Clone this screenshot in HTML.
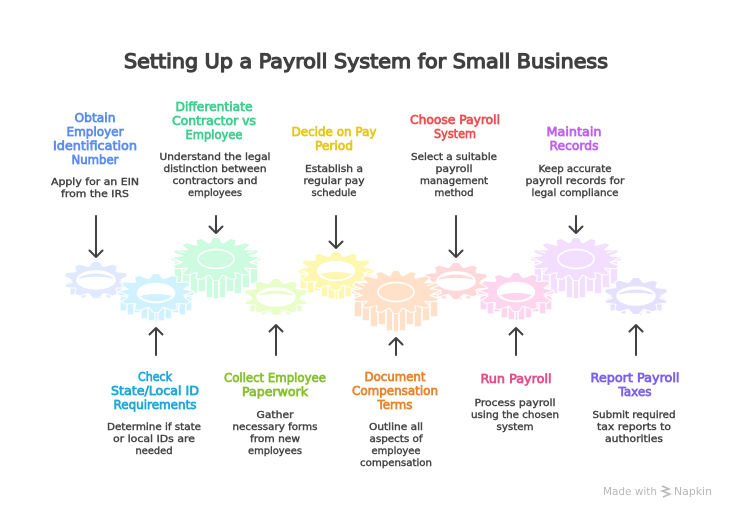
<!DOCTYPE html>
<html><head><meta charset="utf-8"><style>
html,body{margin:0;padding:0;background:#fff}
svg{display:block}
text{text-anchor:middle;font-family:"DejaVu Sans","Liberation Sans",sans-serif;}
.T{font-size:19.5px;fill:#404040;stroke:#404040;stroke-width:1.2px}
.h{font-size:12px;stroke-width:.75px}
.b{font-size:10px;fill:#444;stroke:#444;stroke-width:.42px}
.f{font-size:10.5px;fill:#b8b8b8;text-anchor:start}
.w{fill:none;stroke:#fff;stroke-width:1.5px}
.d{fill:none;stroke:#fff;stroke-width:1px}
.ar{fill:none;stroke:#404040;stroke-width:2px;stroke-linecap:round;stroke-linejoin:round}
</style></head><body>
<svg width="732" height="516" viewBox="0 0 732 516" xmlns="http://www.w3.org/2000/svg">
<defs>
<polygon id="tl" points="-14,-72 -6,-100 6,-100 14,-72" vector-effect="non-scaling-stroke"/>
<polygon id="tm" points="-18,-72 -7,-100 7,-100 18,-72" vector-effect="non-scaling-stroke"/>
<polygon id="ts" points="-22,-72 -8,-100 8,-100 22,-72" vector-effect="non-scaling-stroke"/>
<circle id="c" r="77" vector-effect="non-scaling-stroke"/>
<g id="tL" fill="currentColor">
<use href="#c"/>
<use href="#tl"/><use href="#tl" transform="rotate(22.5)"/><use href="#tl" transform="rotate(45)"/><use href="#tl" transform="rotate(67.5)"/><use href="#tl" transform="rotate(90)"/><use href="#tl" transform="rotate(112.5)"/><use href="#tl" transform="rotate(135)"/><use href="#tl" transform="rotate(157.5)"/><use href="#tl" transform="rotate(180)"/><use href="#tl" transform="rotate(202.5)"/><use href="#tl" transform="rotate(225)"/><use href="#tl" transform="rotate(247.5)"/><use href="#tl" transform="rotate(270)"/><use href="#tl" transform="rotate(292.5)"/><use href="#tl" transform="rotate(315)"/><use href="#tl" transform="rotate(337.5)"/>
</g>
<g id="tM" fill="currentColor">
<use href="#c"/>
<use href="#tm"/><use href="#tm" transform="rotate(30)"/><use href="#tm" transform="rotate(60)"/><use href="#tm" transform="rotate(90)"/><use href="#tm" transform="rotate(120)"/><use href="#tm" transform="rotate(150)"/><use href="#tm" transform="rotate(180)"/><use href="#tm" transform="rotate(210)"/><use href="#tm" transform="rotate(240)"/><use href="#tm" transform="rotate(270)"/><use href="#tm" transform="rotate(300)"/><use href="#tm" transform="rotate(330)"/>
</g>
<g id="tS" fill="currentColor">
<use href="#c"/>
<use href="#ts"/><use href="#ts" transform="rotate(36)"/><use href="#ts" transform="rotate(72)"/><use href="#ts" transform="rotate(108)"/><use href="#ts" transform="rotate(144)"/><use href="#ts" transform="rotate(180)"/><use href="#ts" transform="rotate(216)"/><use href="#ts" transform="rotate(252)"/><use href="#ts" transform="rotate(288)"/><use href="#ts" transform="rotate(324)"/>
</g>
<g id="L">
<g fill="currentColor" stroke="#fff" stroke-width="1.5">
<rect x="-42" y="0" width="8" height="25"/><rect x="-34" y="0" width="8" height="29"/><rect x="-26" y="0" width="8" height="35"/><rect x="-18" y="0" width="8" height="33"/><rect x="-10" y="0" width="7" height="39"/><rect x="-3" y="0" width="6" height="40"/><rect x="3" y="0" width="7" height="39"/><rect x="10" y="0" width="8" height="33"/><rect x="18" y="0" width="8" height="35"/><rect x="26" y="0" width="8" height="29"/><rect x="34" y="0" width="8" height="25"/>
</g>
<g transform="scale(.445,.21)"><g stroke="#fff" stroke-width="2"><use href="#tL"/></g><use href="#tL"/></g>
<path class="d" d="M-44,-1L-34,3L-44,7M-41,-10L-31,-6M44,-1L34,3L44,7M41,-10L31,-6"/>
<ellipse rx="18" ry="9.500" fill="currentColor" stroke="#fff" stroke-width="1.500"/>
</g>
<g id="M">
<g fill="currentColor" stroke="#fff" stroke-width="1.300">
<rect x="-36" y="0" width="7" height="18"/><rect x="-29" y="0" width="7" height="22"/><rect x="-22" y="0" width="7" height="20"/><rect x="-15" y="0" width="7" height="26"/><rect x="-8" y="0" width="7" height="28"/><rect x="-1" y="0" width="3" height="29"/><rect x="2" y="0" width="7" height="28"/><rect x="9" y="0" width="7" height="26"/><rect x="16" y="0" width="7" height="20"/><rect x="23" y="0" width="7" height="22"/><rect x="30" y="0" width="6" height="18"/>
</g>
<g transform="scale(.375,.19)"><g stroke="#fff" stroke-width="2"><use href="#tM"/></g><use href="#tM"/></g>
<path class="d" d="M-37,-1L-28,2L-37,5M37,-1L28,2L37,5"/>
<ellipse rx="18.500" ry="9.500" fill="#fff"/>
<path d="M-16,3Q0,-1 16,3Q10,8.500 0,8.500Q-10,8.500 -16,3Z" fill="currentColor"/>
<ellipse rx="18.500" ry="9.500" class="w"/>
</g>
<g id="S">
<g fill="currentColor" stroke="#fff" stroke-width="1">
<rect x="-26" y="0" width="6" height="15"/><rect x="-15" y="0" width="5" height="18"/><rect x="-5" y="0" width="4" height="19"/><rect x="-1" y="0" width="2" height="20"/><rect x="2" y="0" width="4" height="19"/><rect x="10" y="0" width="5" height="18"/><rect x="20" y="0" width="6" height="15"/>
</g>
<g transform="scale(.32,.18)"><g stroke="#fff" stroke-width="2"><use href="#tS"/></g><use href="#tS"/></g>
<path class="d" d="M-32,-1L-24,2L-32,5M32,-1L24,2L32,5"/>
<ellipse rx="19" ry="9" fill="#fff"/>
<path d="M-17,-2Q0,-10 17,-2Q0,-5.500 -17,-2Z" fill="currentColor" stroke="currentColor" stroke-width="1"/>
<ellipse rx="19" ry="9" class="w"/>
</g>
</defs>

<text class="T" x="366" y="68" textLength="484" lengthAdjust="spacingAndGlyphs">Setting Up a Payroll System for Small Business</text>

<use href="#S" x="96" y="280" color="#e0e9ff"/>
<use href="#L" x="216" y="259" color="#ccfbe0"/>
<use href="#M" x="156" y="293" color="#d0f2ff"/>
<use href="#S" x="276" y="297" color="#e8fdc8"/>
<use href="#M" x="336" y="271" color="#fef7b0"/>
<use href="#S" x="456" y="281" color="#ffd9d9"/>
<use href="#L" x="396" y="292" color="#ffe1ca"/>
<use href="#L" x="576" y="259" color="#f3deff"/>
<use href="#M" x="516" y="292" color="#fdd5ee"/>
<use href="#S" x="636" y="296" color="#e6e0ff"/>

<g class="ar">
<path d="M96 216V257M89.500 250.500L96 257L102.500 250.500"/>
<path d="M216 216V233M209.500 226.500L216 233L222.500 226.500"/>
<path d="M336 216V248M329.500 241.500L336 248L342.500 241.500"/>
<path d="M456 216V257M449.500 250.500L456 257L462.500 250.500"/>
<path d="M576 216V233M569.500 226.500L576 233L582.500 226.500"/>
<path d="M156 355V328M149.500 334.500L156 328L162.500 334.500"/>
<path d="M276 355V325M269.500 331.500L276 325L282.500 331.500"/>
<path d="M396 355V338M389.500 344.500L396 338L402.500 344.500"/>
<path d="M516 355V328M509.500 334.500L516 328L522.500 334.500"/>
<path d="M636 355V325M629.500 331.500L636 325L642.500 331.500"/>
</g>

<g class="h" fill="#5b8def" stroke="#5b8def">
<text x="95" y="122" textLength="41" lengthAdjust="spacingAndGlyphs">Obtain</text>
<text x="95" y="136" textLength="57" lengthAdjust="spacingAndGlyphs">Employer</text>
<text x="95" y="150" textLength="84" lengthAdjust="spacingAndGlyphs">Identification</text>
<text x="95" y="164" textLength="47" lengthAdjust="spacingAndGlyphs">Number</text>
</g>
<g class="h" fill="#3ecf8e" stroke="#3ecf8e">
<text x="214" y="111" textLength="77" lengthAdjust="spacingAndGlyphs">Differentiate</text>
<text x="214" y="125" textLength="84" lengthAdjust="spacingAndGlyphs">Contractor vs</text>
<text x="214" y="139" textLength="57" lengthAdjust="spacingAndGlyphs">Employee</text>
</g>
<g class="h" fill="#e6c619" stroke="#e6c619">
<text x="334" y="136" textLength="85" lengthAdjust="spacingAndGlyphs">Decide on Pay</text>
<text x="334" y="150" textLength="38" lengthAdjust="spacingAndGlyphs">Period</text>
</g>
<g class="h" fill="#ec5050" stroke="#ec5050">
<text x="455" y="124" textLength="90" lengthAdjust="spacingAndGlyphs">Choose Payroll</text>
<text x="455" y="138" textLength="42" lengthAdjust="spacingAndGlyphs">System</text>
</g>
<g class="h" fill="#c060f0" stroke="#c060f0">
<text x="574" y="136" textLength="55" lengthAdjust="spacingAndGlyphs">Maintain</text>
<text x="574" y="150" textLength="49" lengthAdjust="spacingAndGlyphs">Records</text>
</g>
<g class="h" fill="#1ea8d8" stroke="#1ea8d8">
<text x="155" y="381" textLength="34" lengthAdjust="spacingAndGlyphs">Check</text>
<text x="155" y="395" textLength="88" lengthAdjust="spacingAndGlyphs">State/Local ID</text>
<text x="155" y="409" textLength="83" lengthAdjust="spacingAndGlyphs">Requirements</text>
</g>
<g class="h" fill="#88c030" stroke="#88c030">
<text x="275" y="382" textLength="102" lengthAdjust="spacingAndGlyphs">Collect Employee</text>
<text x="275" y="396" textLength="66" lengthAdjust="spacingAndGlyphs">Paperwork</text>
</g>
<g class="h" fill="#e8852c" stroke="#e8852c">
<text x="395" y="381" textLength="61" lengthAdjust="spacingAndGlyphs">Document</text>
<text x="395" y="395" textLength="86" lengthAdjust="spacingAndGlyphs">Compensation</text>
<text x="395" y="409" textLength="35" lengthAdjust="spacingAndGlyphs">Terms</text>
</g>
<g class="h" fill="#e0508f" stroke="#e0508f">
<text x="516" y="383" textLength="71" lengthAdjust="spacingAndGlyphs">Run Payroll</text>
</g>
<g class="h" fill="#7c60ec" stroke="#7c60ec">
<text x="635" y="382" textLength="89" lengthAdjust="spacingAndGlyphs">Report Payroll</text>
<text x="635" y="396" textLength="33" lengthAdjust="spacingAndGlyphs">Taxes</text>
</g>

<g class="b">
<text x="95" y="185" textLength="88" lengthAdjust="spacingAndGlyphs">Apply for an EIN</text>
<text x="95" y="197" textLength="68" lengthAdjust="spacingAndGlyphs">from the IRS</text>
<text x="215" y="160" textLength="111" lengthAdjust="spacingAndGlyphs">Understand the legal</text>
<text x="215" y="172" textLength="103" lengthAdjust="spacingAndGlyphs">distinction between</text>
<text x="215" y="184" textLength="85" lengthAdjust="spacingAndGlyphs">contractors and</text>
<text x="215" y="196" textLength="54" lengthAdjust="spacingAndGlyphs">employees</text>
<text x="334" y="172" textLength="58" lengthAdjust="spacingAndGlyphs">Establish a</text>
<text x="334" y="184" textLength="61" lengthAdjust="spacingAndGlyphs">regular pay</text>
<text x="334" y="196" textLength="45" lengthAdjust="spacingAndGlyphs">schedule</text>
<text x="454" y="160" textLength="86" lengthAdjust="spacingAndGlyphs">Select a suitable</text>
<text x="454" y="172" textLength="37" lengthAdjust="spacingAndGlyphs">payroll</text>
<text x="454" y="184" textLength="68" lengthAdjust="spacingAndGlyphs">management</text>
<text x="454" y="196" textLength="39" lengthAdjust="spacingAndGlyphs">method</text>
<text x="575" y="172" textLength="73" lengthAdjust="spacingAndGlyphs">Keep accurate</text>
<text x="575" y="184" textLength="99" lengthAdjust="spacingAndGlyphs">payroll records for</text>
<text x="575" y="196" textLength="87" lengthAdjust="spacingAndGlyphs">legal compliance</text>
<text x="154" y="430" textLength="94" lengthAdjust="spacingAndGlyphs">Determine if state</text>
<text x="154" y="442" textLength="82" lengthAdjust="spacingAndGlyphs">or local IDs are</text>
<text x="154" y="454" textLength="37" lengthAdjust="spacingAndGlyphs">needed</text>
<text x="275" y="418" textLength="37" lengthAdjust="spacingAndGlyphs">Gather</text>
<text x="275" y="430" textLength="85" lengthAdjust="spacingAndGlyphs">necessary forms</text>
<text x="275" y="442" textLength="50" lengthAdjust="spacingAndGlyphs">from new</text>
<text x="275" y="454" textLength="54" lengthAdjust="spacingAndGlyphs">employees</text>
<text x="396" y="430" textLength="54" lengthAdjust="spacingAndGlyphs">Outline all</text>
<text x="396" y="442" textLength="53" lengthAdjust="spacingAndGlyphs">aspects of</text>
<text x="396" y="454" textLength="49" lengthAdjust="spacingAndGlyphs">employee</text>
<text x="396" y="466" textLength="72" lengthAdjust="spacingAndGlyphs">compensation</text>
<text x="515" y="406" textLength="81" lengthAdjust="spacingAndGlyphs">Process payroll</text>
<text x="515" y="418" textLength="88" lengthAdjust="spacingAndGlyphs">using the chosen</text>
<text x="515" y="430" textLength="37" lengthAdjust="spacingAndGlyphs">system</text>
<text x="634" y="418" textLength="83" lengthAdjust="spacingAndGlyphs">Submit required</text>
<text x="634" y="430" textLength="74" lengthAdjust="spacingAndGlyphs">tax reports to</text>
<text x="634" y="442" textLength="58" lengthAdjust="spacingAndGlyphs">authorities</text>
</g>

<text class="f" x="603" y="495" textLength="54" lengthAdjust="spacingAndGlyphs">Made with</text>
<path d="M662 486L669 489L662 491L670 494L663 497" fill="none" stroke="#b8b8b8" stroke-width="1.5"/>
<text class="f" x="674" y="495" textLength="38" lengthAdjust="spacingAndGlyphs">Napkin</text>
</svg>
</body></html>
